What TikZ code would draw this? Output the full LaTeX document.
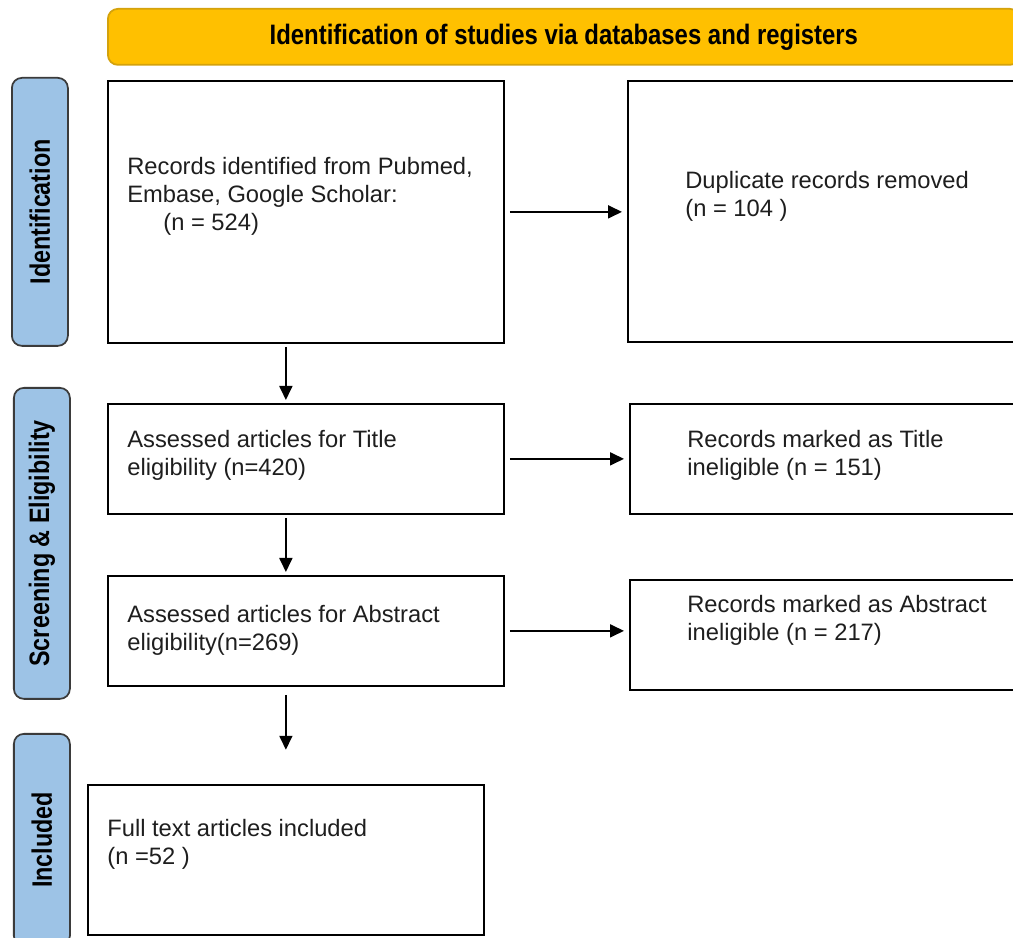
\documentclass[tikz,border=0pt]{standalone}
\usepackage{fontspec}
\setmainfont{Liberation Sans}
\usetikzlibrary{arrows.meta,calc}
\definecolor{bannergold}{HTML}{FFC000}
\definecolor{bannerline}{HTML}{D4A20C}
\definecolor{phaseblue}{HTML}{9DC3E6}
\definecolor{phaseline}{HTML}{3B3B3B}
\definecolor{txtgray}{HTML}{1E1E1E}

\begin{document}
\begin{tikzpicture}[
    box/.style={draw=black, line width=1pt, fill=white, anchor=north west, inner sep=0pt},
    phase/.style={draw=phaseline, line width=1pt, fill=phaseblue, rounded corners=0.2cm, anchor=north west, inner sep=0pt, minimum width=1.12cm},
    phasetxt/.style={rotate=90, inner sep=0pt, text=black, font=\bfseries\fontsize{16}{18}\selectfont},
    txt/.style={anchor=west, align=left, inner sep=0pt, text=txtgray, font=\fontsize{13.5}{16}\selectfont},
    arr/.style={line width=1pt, -{Triangle[length=0.28cm,width=0.26cm]}}
  ]
  \clip (0,0) rectangle (20.26,18.76);

  % banner
  \node[phase, draw=bannerline, fill=bannergold, minimum width=18.24cm, minimum height=1.12cm] (banner) at (2.14,18.6) {};
  \node[phasetxt, rotate=-90] at (banner) {\scalebox{0.85}[1]{Identification of studies via databases and registers}};

  % phase labels on the left
  \node[phase, minimum height=5.36cm] (idph) at (0.22,17.22) {};
  \node[phasetxt] at (idph) {\scalebox{0.83}[1]{Identification}};
  \node[phase, minimum height=6.22cm] (scrph) at (0.26,11.02) {};
  \node[phasetxt] at (scrph) {\scalebox{0.83}[1]{Screening \& Eligibility}};
  \node[phase, minimum height=4.24cm] (incph) at (0.26,4.1) {};
  \node[phasetxt] at (incph) {\scalebox{0.83}[1]{Included}};

  % boxes
  \node[box, minimum width=7.92cm, minimum height=5.24cm] (rec) at (2.14,17.16) {};
  \node[box, minimum width=7.86cm, minimum height=5.22cm] (dup) at (12.54,17.16) {};
  \node[box, minimum width=7.92cm, minimum height=2.2cm] (tit) at (2.14,10.7) {};
  \node[box, minimum width=7.82cm, minimum height=2.2cm] (titex) at (12.58,10.7) {};
  \node[box, minimum width=7.92cm, minimum height=2.2cm] (abs) at (2.14,7.26) {};
  \node[box, minimum width=7.82cm, minimum height=2.2cm] (absex) at (12.58,7.18) {};
  \node[box, minimum width=7.92cm, minimum height=3.0cm] (full) at (1.74,3.08) {};

  % texts
  \node[txt] at (2.54,14.84) {Records identified from Pubmed,\\Embase, Google Scholar:\\\hspace*{0.72cm}(n = 524)};
  \node[txt] at (13.7,14.84) {Duplicate records removed\\(n = 104 )};
  \node[txt] at (2.54,9.66) {Assessed articles for Title\\eligibility (n=420)};
  \node[txt] at (13.74,9.66) {Records marked as Title\\ineligible (n = 151)};
  \node[txt] at (2.54,6.16) {Assessed articles for Abstract\\eligibility(n=269)};
  \node[txt] at (13.74,6.36) {Records marked as Abstract\\ineligible (n = 217)};
  \node[txt] at (2.14,1.88) {Full text articles included\\(n =52 )};

  % arrows
  \coordinate (inc) at ([xshift=-0.4cm,yshift=-1.26cm]abs.south);
  \draw[arr] ([xshift=0.1cm]rec.east) -- ([xshift=-0.1cm]rec.east -| dup.west);
  \draw[arr] ([xshift=0.1cm]tit.east) -- ([xshift=-0.1cm]tit.east -| titex.west);
  \draw[arr] ([xshift=0.1cm]abs.east) -- ([xshift=-0.1cm]abs.east -| absex.west);
  \draw[arr] ([xshift=-0.4cm,yshift=-0.06cm]rec.south) -- ([xshift=-0.4cm,yshift=0.06cm]rec.south |- tit.north);
  \draw[arr] ([xshift=-0.4cm,yshift=-0.06cm]tit.south) -- ([xshift=-0.4cm,yshift=0.06cm]tit.south |- abs.north);
  \draw[arr] ([xshift=-0.4cm,yshift=-0.16cm]abs.south) -- (inc);
\end{tikzpicture}
\end{document}
